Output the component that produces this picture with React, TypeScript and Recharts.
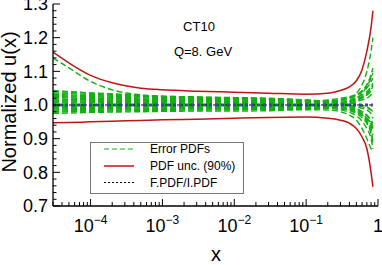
import React from 'react';
import { LineChart, Line, XAxis, YAxis } from 'recharts';

const FONT = '"Liberation Sans", Arial, Helvetica, sans-serif';

// x grid of the curves
const xs = [3e-5, 5e-5, 1e-4, 2e-4, 5e-4, 1e-3, 3e-3, 1e-2, 3e-2, 0.1, 0.2, 0.3, 0.4, 0.5, 0.6, 0.7, 0.8, 0.85];

// PDF uncertainty (90%) band edges
const pdfUncUp = [1.157, 1.125, 1.088, 1.066, 1.05, 1.045, 1.041, 1.038, 1.035, 1.032, 1.035, 1.043, 1.054, 1.072, 1.105, 1.16, 1.23, 1.28];
const pdfUncLo = [0.947, 0.948, 0.95, 0.952, 0.954, 0.956, 0.958, 0.961, 0.963, 0.964, 0.961, 0.955, 0.946, 0.93, 0.905, 0.87, 0.8, 0.757];

// F.PDF / I.PDF ratio
const ratio = [1, 1, 1, 1, 1, 1, 1, 1, 1, 1, 1, 1, 1, 1, 1, 1, 1, 1];

// error PDF sets, normalized to the central fit
const errorPdfs: number[][] = [
  [1.14, 1.11, 1.07, 1.045, 1.03, 1.025, 1.022, 1.02, 1.018, 1.012, 1.01, 1.008, 1.006, 1.01, 1.015, 1.02, 1.03, 1.035],
  [1.04, 1.038, 1.035, 1.032, 1.028, 1.026, 1.024, 1.022, 1.02, 1.014, 1.012, 1.015, 1.022, 1.035, 1.06, 1.1, 1.16, 1.2],
  [0.975, 0.976, 0.978, 0.979, 0.98, 0.981, 0.982, 0.982, 0.983, 0.986, 0.985, 0.98, 0.97, 0.955, 0.93, 0.9, 0.87, 0.86],
  [1.032, 1.03, 1.028, 1.026, 1.024, 1.022, 1.02, 1.018, 1.016, 1.012, 1.008, 1.005, 1.0, 0.995, 0.99, 0.985, 0.975, 0.96],
  [1.025, 1.024, 1.022, 1.02, 1.018, 1.017, 1.016, 1.015, 1.013, 1.01, 1.015, 1.02, 1.025, 1.03, 1.04, 1.05, 1.07, 1.08],
  [1.018, 1.017, 1.016, 1.015, 1.014, 1.013, 1.012, 1.011, 1.01, 1.008, 1.005, 1.0, 0.995, 0.985, 0.975, 0.96, 0.94, 0.92],
  [1.012, 1.012, 1.011, 1.01, 1.01, 1.009, 1.009, 1.008, 1.007, 1.006, 1.01, 1.015, 1.02, 1.028, 1.04, 1.06, 1.09, 1.11],
  [1.006, 1.006, 1.006, 1.005, 1.005, 1.005, 1.004, 1.004, 1.004, 1.003, 1.0, 0.995, 0.99, 0.982, 0.97, 0.955, 0.93, 0.91],
  [0.995, 0.995, 0.995, 0.996, 0.996, 0.996, 0.997, 0.997, 0.997, 0.998, 1.002, 1.008, 1.012, 1.018, 1.025, 1.035, 1.05, 1.06],
  [0.988, 0.989, 0.99, 0.99, 0.991, 0.991, 0.992, 0.992, 0.993, 0.994, 0.992, 0.988, 0.985, 0.978, 0.97, 0.96, 0.945, 0.93],
  [0.982, 0.983, 0.984, 0.985, 0.986, 0.987, 0.988, 0.988, 0.989, 0.99, 0.995, 1.0, 1.005, 1.012, 1.02, 1.03, 1.045, 1.055],
  [1.036, 1.034, 1.031, 1.029, 1.026, 1.024, 1.022, 1.02, 1.018, 1.014, 1.01, 1.008, 1.006, 1.004, 1.0, 0.995, 0.985, 0.975],
  [1.028, 1.027, 1.025, 1.023, 1.021, 1.019, 1.018, 1.017, 1.015, 1.011, 1.006, 1.0, 0.994, 0.988, 0.98, 0.97, 0.955, 0.945],
  [1.022, 1.021, 1.019, 1.018, 1.016, 1.015, 1.014, 1.013, 1.012, 1.009, 1.012, 1.016, 1.022, 1.03, 1.042, 1.06, 1.085, 1.1],
  [1.015, 1.015, 1.014, 1.013, 1.012, 1.011, 1.01, 1.01, 1.009, 1.007, 1.004, 1.002, 1.0, 0.998, 0.995, 0.99, 0.985, 0.98],
  [1.009, 1.009, 1.008, 1.008, 1.007, 1.007, 1.006, 1.006, 1.006, 1.005, 1.008, 1.012, 1.016, 1.022, 1.03, 1.04, 1.055, 1.065],
  [1.002, 1.002, 1.002, 1.002, 1.002, 1.002, 1.002, 1.001, 1.001, 1.001, 0.998, 0.994, 0.988, 0.98, 0.968, 0.95, 0.92, 0.895],
  [0.998, 0.998, 0.998, 0.998, 0.998, 0.998, 0.998, 0.999, 0.999, 0.999, 1.003, 1.006, 1.01, 1.015, 1.022, 1.03, 1.04, 1.045],
  [0.992, 0.992, 0.993, 0.993, 0.994, 0.994, 0.994, 0.995, 0.995, 0.996, 0.994, 0.99, 0.984, 0.975, 0.962, 0.945, 0.915, 0.885],
  [0.985, 0.986, 0.987, 0.988, 0.988, 0.989, 0.99, 0.99, 0.991, 0.992, 0.996, 1.003, 1.01, 1.02, 1.035, 1.055, 1.08, 1.095],
  [0.979, 0.98, 0.981, 0.982, 0.983, 0.984, 0.985, 0.986, 0.987, 0.988, 0.99, 0.986, 0.978, 0.968, 0.952, 0.93, 0.9, 0.87],
  [1.043, 1.04, 1.036, 1.033, 1.029, 1.026, 1.023, 1.021, 1.019, 1.015, 1.01, 1.004, 0.998, 0.99, 0.98, 0.968, 0.95, 0.935],
];

const xMajor = [1e-4, 1e-3, 1e-2, 1e-1, 1];
const xExp = ['\u22124', '\u22123', '\u22122', '\u22121'];
const yMajorLabels = ['0.7', '0.8', '0.9', '1.0', '1.1', '1.2', '1.3'];

const xMinor: number[] = [];
for (let d = -5; d <= -1; d++) {
  for (let m = 2; m <= 9; m++) {
    const v = m * Math.pow(10, d);
    if (v >= 3e-5 && v < 1) xMinor.push(v);
  }
}
const xTicks = [...xMinor, ...xMajor].sort((a, b) => a - b);
const yTicks: number[] = [];
for (let k = 70; k <= 130; k += 2) yTicks.push(k / 100);

const rows = xs.map((x, i) => {
  const r: any = { x, up: pdfUncUp[i], lo: pdfUncLo[i], ratio: ratio[i] };
  errorPdfs.forEach((s, k) => (r['e' + k] = s[i]));
  return r;
});

const majorIdx = (v: number) => xMajor.findIndex((m) => Math.abs(m - v) / m < 1e-6);

const BottomTick = ({ x, y, payload }: any) => {
  const i = majorIdx(payload.value);
  return (
    <g>
      <line x1={x} x2={x} y1={y} y2={y - (i >= 0 ? 7 : 4)} stroke="#000" />
      {i >= 0 && (
        <text x={x} y={y + 26} textAnchor="middle" fontFamily={FONT} fontSize={18} fill="#000">
          {i < 4 ? (
            <>
              <tspan>10</tspan>
              <tspan dy={-8} fontSize={12}>{xExp[i]}</tspan>
            </>
          ) : (
            '1'
          )}
        </text>
      )}
    </g>
  );
};

const TopTick = ({ x, y, payload }: any) => {
  const i = majorIdx(payload.value);
  return <line x1={x} x2={x} y1={y} y2={y + (i >= 0 ? 7 : 4)} stroke="#000" />;
};

const LeftTick = ({ x, y, payload }: any) => {
  const k = Math.round(payload.value * 100);
  const major = k % 10 === 0;
  return (
    <g>
      <line x1={x} x2={x + (major ? 7 : 3.5)} y1={y} y2={y} stroke="#000" />
      {major && (
        <text x={x - 5} y={y} dy="0.36em" textAnchor="end" fontFamily={FONT} fontSize={18} fill="#000">
          {yMajorLabels[(k - 70) / 10]}
        </text>
      )}
    </g>
  );
};

const RightTick = ({ x, y, payload }: any) => {
  const major = Math.round(payload.value * 100) % 10 === 0;
  return <line x1={x} x2={x - (major ? 7 : 3.5)} y1={y} y2={y} stroke="#000" />;
};

const axisLine = { stroke: '#000', strokeWidth: 1.3 };

export default function App() {
  return (
    <div style={{ position: 'absolute', left: 0, top: 0, width: 382, height: 265, background: '#fff' }}>
      <LineChart width={382} height={265} data={rows} margin={{ top: 4, right: 4, bottom: 0, left: 0 }}>
        <XAxis dataKey="x" type="number" scale="log" domain={[3e-5, 1]} allowDataOverflow
          ticks={xTicks} interval={0} tick={<BottomTick />} tickLine={false} tickSize={0} tickMargin={0}
          axisLine={axisLine} height={59} />
        <XAxis xAxisId="top" orientation="top" dataKey="x" type="number" scale="log" domain={[3e-5, 1]} allowDataOverflow
          ticks={xTicks} interval={0} tick={<TopTick />} tickLine={false} tickSize={0} tickMargin={0}
          axisLine={axisLine} height={0} />
        <YAxis type="number" domain={[0.7, 1.3]} allowDataOverflow ticks={yTicks} interval={0}
          tick={<LeftTick />} tickLine={false} tickSize={0} tickMargin={0} axisLine={axisLine} width={53} />
        <YAxis yAxisId="right" orientation="right" type="number" domain={[0.7, 1.3]} allowDataOverflow ticks={yTicks} interval={0}
          tick={<RightTick />} tickLine={false} tickSize={0} tickMargin={0} axisLine={axisLine} width={0} />
        {errorPdfs.map((_, k) => (
          <Line key={k} type="monotone" dataKey={'e' + k} stroke="#12b012" strokeWidth={1.4}
            strokeDasharray="6 3" dot={false} activeDot={false} isAnimationActive={false} />
        ))}
        <Line type="monotone" dataKey="up" stroke="#c01414" strokeWidth={1.5} dot={false} activeDot={false} isAnimationActive={false} />
        <Line type="monotone" dataKey="lo" stroke="#c01414" strokeWidth={1.5} dot={false} activeDot={false} isAnimationActive={false} />
        <Line xAxisId="top" yAxisId="right" type="monotone" dataKey="ratio" stroke="#000" strokeWidth={1}
          strokeDasharray="2 2" dot={false} activeDot={false} isAnimationActive={false} />
        <Line type="monotone" dataKey="ratio" stroke="#3d3db5" strokeWidth={3} strokeDasharray="3 3"
          dot={false} activeDot={false} isAnimationActive={false} />
      </LineChart>
      <svg width={382} height={265} style={{ position: 'absolute', left: 0, top: 0, pointerEvents: 'none' }}
        fontFamily={FONT} fill="#000">
        <text x={16} y={102} transform="rotate(-90 16 102)" textAnchor="middle" fontSize={20}>Normalized u(x)</text>
        <text x={216} y={261} textAnchor="middle" fontSize={20}>x</text>
        <text x={199} y={31} textAnchor="middle" fontSize={13}>CT10</text>
        <text x={203} y={56} textAnchor="middle" fontSize={13}>Q=8. GeV</text>
        <rect x={90.5} y={142.5} width={153} height={51} fill="#fff" stroke="#777" />
        <line x1={104} x2={134} y1={149} y2={149} stroke="#12b012" strokeDasharray="5 3" />
        <line x1={104} x2={134} y1={166} y2={166} stroke="#c01414" strokeWidth={1.5} />
        <line x1={104} x2={134} y1={182.5} y2={182.5} stroke="#000" strokeDasharray="2 2" />
        <text x={150} y={153} fontSize={12}>Error PDFs</text>
        <text x={150} y={170} fontSize={12}>PDF unc. (90%)</text>
        <text x={150} y={187} fontSize={12}>F.PDF/I.PDF</text>
      </svg>
    </div>
  );
}
